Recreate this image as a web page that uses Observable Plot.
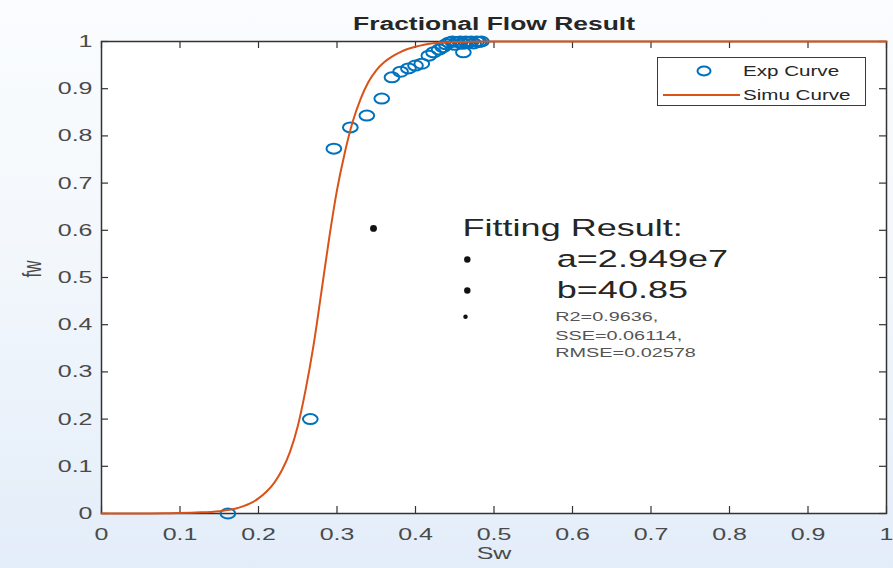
<!DOCTYPE html>
<html><head><meta charset="utf-8">
<script src="https://cdn.jsdelivr.net/npm/d3@7"></script>
<script src="https://cdn.jsdelivr.net/npm/@observablehq/plot@0.6"></script>
<style>
html,body{margin:0;padding:0;}
body{width:893px;height:568px;background:linear-gradient(to bottom,#fafcfe 0%,#f4f8fc 40%,#e3edf9 100%);position:relative;overflow:hidden;font-family:"Liberation Sans",Arial,sans-serif;}
#chart{position:absolute;left:0;top:0;}
#legend{position:absolute;left:657px;top:57px;width:207px;height:47px;border:1.5px solid #3a3a3a;background:#fff;}
#legend svg{position:absolute;left:0;top:0;}
#legend span{position:absolute;left:85px;font-size:14px;color:#262626;transform:scaleX(1.47);transform-origin:left center;white-space:nowrap;line-height:16px;}
</style>
</head><body>
<div id="chart"></div>
<div id="legend">
  <svg width="207" height="47"><ellipse cx="46" cy="13" rx="6.5" ry="4.5" fill="none" stroke="#0072BD" stroke-width="2"/><line x1="5" x2="82" y1="37" y2="37" stroke="#D95319" stroke-width="2"/></svg>
  <span style="top:5px">Exp Curve</span>
  <span style="top:29px">Simu Curve</span>
</div>
<script>
// ---- data ----
const expSw = [0.161, 0.266, 0.296, 0.317, 0.338, 0.357, 0.370, 0.381, 0.391, 0.400, 0.408, 0.417, 0.423, 0.430, 0.435, 0.439, 0.443, 0.447, 0.450, 0.453, 0.457, 0.460, 0.461, 0.464, 0.468, 0.471, 0.474, 0.478, 0.481, 0.484];
const expFw = [0.000, 0.200, 0.773, 0.818, 0.843, 0.879, 0.924, 0.936, 0.943, 0.949, 0.953, 0.970, 0.977, 0.983, 0.988, 0.994, 0.998, 1.000, 0.993, 0.999, 1.000, 0.995, 0.977, 1.000, 0.998, 1.000, 0.996, 1.000, 0.999, 1.000];
const simSw = [0, 0.05, 0.08, 0.12, 0.15, 0.17, 0.18, 0.19, 0.20, 0.21, 0.22, 0.23, 0.24, 0.25, 0.26, 0.27, 0.28, 0.29, 0.30, 0.31, 0.32, 0.33, 0.34, 0.35, 0.36, 0.37, 0.38, 0.39, 0.40, 0.42, 0.45, 0.50, 0.60, 0.80, 1.00];
const simFw = [0, 0, 0.0005, 0.002, 0.005, 0.010, 0.015, 0.022, 0.032, 0.046, 0.065, 0.092, 0.13, 0.185, 0.262, 0.355, 0.468, 0.583, 0.685, 0.765, 0.830, 0.878, 0.914, 0.939, 0.956, 0.968, 0.977, 0.984, 0.989, 0.996, 0.999, 1, 1, 1, 1];
const xTicks = [0, 0.1, 0.2, 0.3, 0.4, 0.5, 0.6, 0.7, 0.8, 0.9, 1];
const xTickLabels = ["0", "0.1", "0.2", "0.3", "0.4", "0.5", "0.6", "0.7", "0.8", "0.9", "1"];
const yTicks = [0, 0.1, 0.2, 0.3, 0.4, 0.5, 0.6, 0.7, 0.8, 0.9, 1];
const yTickLabels = ["0", "0.1", "0.2", "0.3", "0.4", "0.5", "0.6", "0.7", "0.8", "0.9", "1"];
const annoText = ["Fitting Result:", "a=2.949e7", "b=40.85"];
const annoSw = [0.46, 0.58, 0.58];
const annoFw = [0.604, 0.538, 0.4725];
const statText = ["R2=0.9636,", "SSE=0.06114,", "RMSE=0.02578"];
const statSw = [0.578, 0.578, 0.578];
const statFw = [0.417, 0.376, 0.340];
const bulletSw = [0.3465, 0.466, 0.466, 0.4637];
const bulletFw = [0.604, 0.538, 0.4725, 0.417];
const titleText = "Fractional Flow Result";
const xLabel = "Sw";
const yLabel = "fw";

// ---- build ----
const expData = expSw.map((s, i) => ({sw: s, fw: expFw[i]}));
const simData = simSw.map((s, i) => ({sw: s, fw: simFw[i]}));
const annoData = annoText.map((t, i) => ({t, sw: annoSw[i], fw: annoFw[i]}));
const statData = statText.map((t, i) => ({t, sw: statSw[i], fw: statFw[i]}));
const bulletData = bulletSw.map((s, i) => ({sw: s, fw: bulletFw[i]}));

const W = 893, H = 568, mL = 101, mR = 7, mT = 41, mB = 55;
const plotW = W - mL - mR, plotH = H - mT - mB, TK = 7;
const SX = 1.47;
const ellipse = {
  draw(ctx, size) {
    const r = Math.sqrt(size / Math.PI), rx = r * SX, ry = r, k = 0.5523;
    ctx.moveTo(rx, 0);
    ctx.bezierCurveTo(rx, k * ry, k * rx, ry, 0, ry);
    ctx.bezierCurveTo(-k * rx, ry, -rx, k * ry, -rx, 0);
    ctx.bezierCurveTo(-rx, -k * ry, -k * rx, -ry, 0, -ry);
    ctx.bezierCurveTo(k * rx, -ry, rx, -k * ry, rx, 0);
    ctx.closePath();
  }
};
const font = '"Liberation Sans", Arial, sans-serif';
const svg = Plot.plot({
  width: W, height: H,
  marginLeft: mL, marginRight: mR, marginTop: mT, marginBottom: mB,
  x: {domain: [0, 1], axis: null},
  y: {domain: [0, 1], axis: null},
  style: {background: "transparent", fontFamily: font, overflow: "visible"},
  marks: [
    Plot.frame({fill: "white", stroke: null}),
    Plot.ruleX(xTicks, {insetTop: plotH - TK, stroke: "#333", strokeWidth: 1.2}),
    Plot.ruleX(xTicks, {insetBottom: plotH - TK, stroke: "#333", strokeWidth: 1.2}),
    Plot.ruleY(yTicks, {insetRight: plotW - TK, stroke: "#333", strokeWidth: 1.2}),
    Plot.ruleY(yTicks, {insetLeft: plotW - TK, stroke: "#333", strokeWidth: 1.2}),
    Plot.frame({stroke: "#333", strokeWidth: 1.5}),
    Plot.axisX(xTicks, {tickSize: 0, tickPadding: 14, tickFormat: d => xTickLabels[xTicks.indexOf(d)], fontSize: 17, fill: "#4a4a4a", label: null}),
    Plot.axisY(yTicks, {tickSize: 0, tickPadding: 9, tickFormat: d => yTickLabels[yTicks.indexOf(d)], fontSize: 17, fill: "#4a4a4a", label: null}),
    Plot.text([titleText], {frameAnchor: "top", dy: -17, lineAnchor: "middle", fontSize: 18, fontWeight: "bold", fill: "#262626"}),
    Plot.text([xLabel], {frameAnchor: "bottom", dy: 40, lineAnchor: "middle", fontSize: 17, fill: "#4a4a4a"}),
    Plot.text([yLabel], {frameAnchor: "left", dx: -69, rotate: -90, lineAnchor: "middle", fontSize: 17, fill: "#4a4a4a"}),
    Plot.dot(expData, {x: "sw", y: "fw", r: 5, symbol: ellipse, stroke: "#0072BD", strokeWidth: 2, fill: "none"}),
    Plot.line(simData, {x: "sw", y: "fw", stroke: "#D95319", strokeWidth: 2, curve: "monotone-x"}),
    Plot.dot(bulletData, {x: "sw", y: "fw", r: (d, i) => i === 0 ? 3.2 : i === 3 ? 1.4 : 2.8, fill: "#111", stroke: null}),
    Plot.text(annoData, {x: "sw", y: "fw", text: "t", textAnchor: "start", lineAnchor: "middle", fontSize: 24.5, fill: "#262626"}),
    Plot.text(statData, {x: "sw", y: "fw", text: "t", textAnchor: "start", lineAnchor: "middle", fontSize: 13.5, fill: "#555"})
  ]
});
svg.querySelectorAll("text").forEach(t => {
  const x = +(t.getAttribute("x") || 0);
  let tr = t.getAttribute("transform") || "";
  const s = `translate(${x},0) scale(${SX},1) translate(${-x},0)`;
  if (/rotate\(/.test(tr)) tr = tr.replace(/rotate\(/, `scale(${SX},1) rotate(`);
  else tr = (tr + " " + s).trim();
  t.setAttribute("transform", tr);
});
document.getElementById("chart").appendChild(svg);
</script>
</body></html>
